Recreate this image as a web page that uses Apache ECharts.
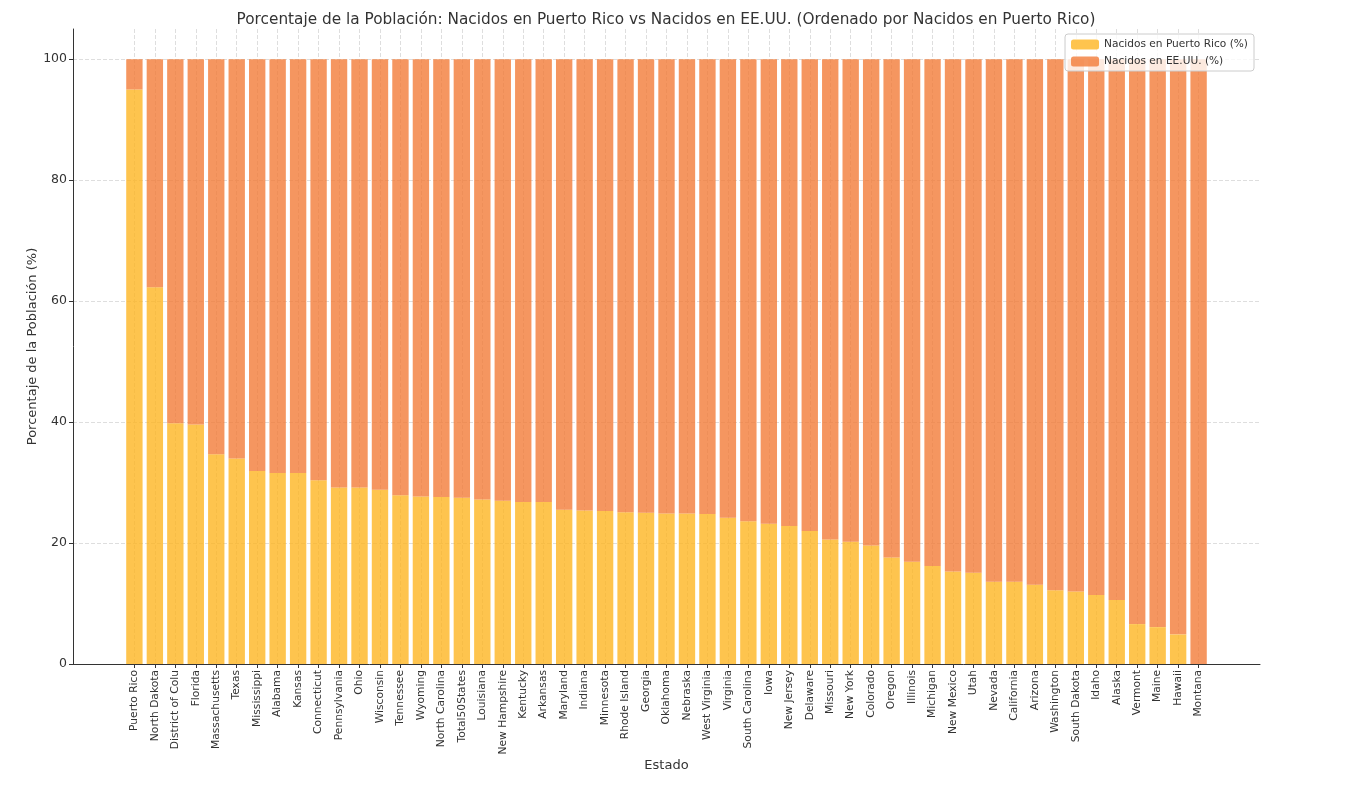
<!DOCTYPE html>
<html>
<head>
<meta charset="utf-8">
<script src="https://cdn.jsdelivr.net/npm/echarts@6/dist/echarts.min.js"></script>
<style>
  html, body { margin: 0; padding: 0; background: #fff; }
  #chart { width: 1352px; height: 801px; }
</style>
</head>
<body>
<div id="chart"></div>
<script>
// estados, ordenados por nacidos en Puerto Rico
const states = ['Puerto Rico', 'North Dakota', 'District of Colu', 'Florida', 'Massachusetts', 'Texas',
  'Mississippi', 'Alabama', 'Kansas', 'Connecticut', 'Pennsylvania', 'Ohio', 'Wisconsin', 'Tennessee',
  'Wyoming', 'North Carolina', 'Total50States', 'Louisiana', 'New Hampshire', 'Kentucky', 'Arkansas',
  'Maryland', 'Indiana', 'Minnesota', 'Rhode Island', 'Georgia', 'Oklahoma', 'Nebraska', 'West Virginia',
  'Virginia', 'South Carolina', 'Iowa', 'New Jersey', 'Delaware', 'Missouri', 'New York', 'Colorado',
  'Oregon', 'Illinois', 'Michigan', 'New Mexico', 'Utah', 'Nevada', 'California', 'Arizona', 'Washington',
  'South Dakota', 'Idaho', 'Alaska', 'Vermont', 'Maine', 'Hawaii', 'Montana'];

const prBorn = [95.0, 62.3, 39.8, 39.6, 34.7, 34.0, 31.9, 31.6, 31.6, 30.4, 29.2, 29.2, 28.8, 27.9,
  27.7, 27.6, 27.5, 27.2, 27.0, 26.8, 26.8, 25.5, 25.4, 25.3, 25.1, 25.0, 24.9, 24.9, 24.8,
  24.2, 23.6, 23.2, 22.8, 22.0, 20.6, 20.2, 19.6, 17.6, 16.9, 16.2, 15.3, 15.1, 13.6, 13.6, 13.1, 12.2,
  12.0, 11.4, 10.6, 6.6, 6.1, 4.9, 0.0];

const usBorn = [5.0, 37.7, 60.2, 60.4, 65.3, 66.0, 68.1, 68.4, 68.4, 69.6, 70.8, 70.8, 71.2, 72.1,
  72.3, 72.4, 72.5, 72.8, 73.0, 73.2, 73.2, 74.5, 74.6, 74.7, 74.9, 75.0, 75.1, 75.1, 75.2,
  75.8, 76.4, 76.8, 77.2, 78.0, 79.4, 79.8, 80.4, 82.4, 83.1, 83.8, 84.7, 84.9, 86.4, 86.4, 86.9, 87.8,
  88.0, 88.6, 89.4, 93.4, 93.9, 95.1, 100.0];

const yTicks = [0, 20, 40, 60, 80, 100];

// margen vacio a cada lado, como en el grafico original
const padCats = ['', '', ''];
const padVals = [null, null, null];
const cats = padCats.concat(states, padCats);

const font = 'DejaVu Sans';
const ink = '#333';

const chart = echarts.init(document.getElementById('chart'));
chart.setOption({
  animation: false,
  textStyle: { fontFamily: font, color: ink },
  title: {
    text: 'Porcentaje de la Población: Nacidos en Puerto Rico vs Nacidos en EE.UU. (Ordenado por Nacidos en Puerto Rico)',
    left: 661,
    top: 8,
    textAlign: 'center',
    textStyle: { fontFamily: font, fontSize: 15.3, fontWeight: 'normal', color: ink }
  },
  legend: {
    orient: 'vertical',
    right: 98,
    top: 34,
    itemWidth: 28,
    itemHeight: 10,
    itemGap: 6,
    padding: [5, 6, 4, 6],
    borderColor: '#ccc',
    borderWidth: 1,
    borderRadius: 3,
    backgroundColor: 'rgba(255,255,255,0.8)',
    textStyle: { fontFamily: font, fontSize: 10.6, color: ink },
    data: ['Nacidos en Puerto Rico (%)', 'Nacidos en EE.UU. (%)']
  },
  grid: { left: 73, right: 92, top: 29, bottom: 137 },
  xAxis: {
    type: 'category',
    data: cats,
    boundaryGap: false,
    name: 'Estado',
    nameLocation: 'middle',
    nameGap: 95,
    nameMoveOverlap: false,
    nameTextStyle: { fontFamily: font, fontSize: 13, color: ink },
    axisLine: { lineStyle: { color: ink, width: 1 } },
    axisTick: {
      length: 4,
      interval: (i, v) => v !== '',
      lineStyle: { color: ink }
    },
    axisLabel: {
      interval: 0,
      rotate: 90,
      margin: 6,
      fontFamily: font,
      fontSize: 10.7,
      color: ink
    },
    splitLine: {
      show: true,
      interval: (i, v) => v !== '',
      lineStyle: { color: '#d6d6d6', width: 0.8, type: [4, 2] }
    }
  },
  yAxis: {
    type: 'value',
    min: 0,
    max: 105,
    interval: 20,
    name: 'Porcentaje de la Población (%)',
    nameLocation: 'middle',
    nameGap: 34,
    nameMoveOverlap: false,
    nameTextStyle: { fontFamily: font, fontSize: 13, color: ink },
    axisLine: { show: true, lineStyle: { color: ink, width: 1 } },
    axisTick: { show: true, length: 4, lineStyle: { color: ink } },
    axisLabel: {
      margin: 6,
      fontFamily: font,
      fontSize: 12.5,
      color: ink,
      showMaxLabel: false,
      formatter: v => (yTicks.indexOf(v) >= 0 ? String(v) : '')
    },
    splitLine: {
      show: true,
      showMaxLine: false,
      lineStyle: { color: '#d6d6d6', width: 0.8, type: [4, 2] }
    }
  },
  series: [
    {
      name: 'Nacidos en Puerto Rico (%)',
      type: 'bar',
      stack: 'total',
      barWidth: '80%',
      itemStyle: { color: 'rgba(254,181,34,0.8)' },
      data: padVals.concat(prBorn, padVals)
    },
    {
      name: 'Nacidos en EE.UU. (%)',
      type: 'bar',
      stack: 'total',
      barWidth: '80%',
      itemStyle: { color: 'rgba(242,124,56,0.8)' },
      data: padVals.concat(usBorn, padVals)
    }
  ]
});
</script>
</body>
</html>
